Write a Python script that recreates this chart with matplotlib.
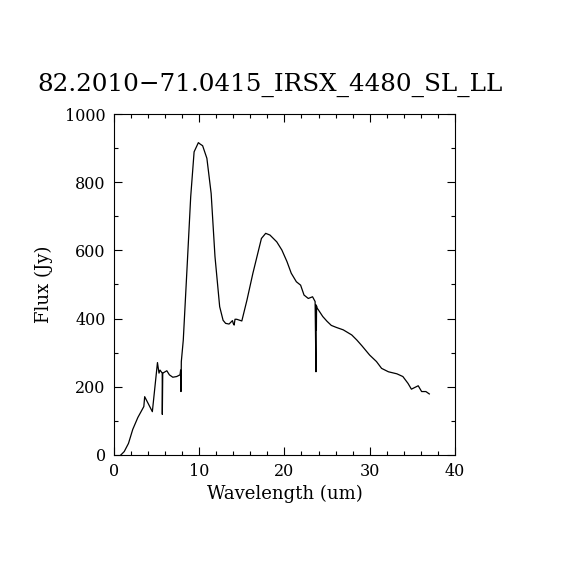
import matplotlib
matplotlib.use("Agg")
import matplotlib.pyplot as plt
from matplotlib.ticker import MultipleLocator

title = "82.2010\u221271.0415_IRSX_4480_SL_LL"
xlabel = "Wavelength (um)"
ylabel = "Flux (Jy)"

wave = [0.8, 1.2, 1.7, 2.2, 2.8, 3.5, 3.6, 4.5, 5.1, 5.28, 5.4, 5.66, 5.67, 5.72,
        5.79, 6.2, 6.5, 6.9, 7.35, 7.75, 7.82, 7.86, 7.9, 8.13, 8.6, 9.0, 9.4,
        9.9, 10.1, 10.4, 10.9, 11.4, 11.85, 12.4, 12.8, 13.1, 13.5, 13.9, 14.0,
        14.1, 14.2, 14.4, 15.0, 15.6, 16.3, 17.3, 17.8, 18.3, 19.1, 19.7, 20.3,
        20.8, 21.4, 21.9, 22.3, 22.8, 23.3, 23.6, 23.7, 23.72, 23.75, 23.77,
        23.8, 24.0, 24.5, 25.0, 25.5, 26.1, 26.9, 27.9, 28.5, 29.1, 30.0, 30.8,
        31.4, 32.2, 33.2, 33.9, 34.5, 34.9, 35.7, 36.1, 36.6, 37.0]
flux = [0, 10, 34, 75, 110, 142, 171, 127, 271, 240, 249, 240, 119, 240,
        241, 247, 235, 228, 230, 235, 249, 186, 274, 337, 562, 757, 889,
        916, 912, 907, 870, 767, 582, 435, 395, 386, 384, 394, 385,
        381, 398, 398, 393, 454, 533, 635, 650, 645, 625, 601, 567,
        533, 508, 498, 469, 459, 464, 450, 244, 440, 367, 437,
        432, 425, 406, 392, 380, 374, 367, 352, 337, 320, 293, 274,
        254, 244, 238, 230, 210, 193, 203, 186, 186, 179]

plt.rcParams['font.family'] = ['DejaVu Serif']
fig = plt.figure(figsize=(5.7, 5.7), dpi=100)
ax = fig.add_axes([0.2, 0.2018, 0.598, 0.5982])
ax.plot(wave, flux, color='black', lw=0.9)
ax.set_xlim(0, 40)
ax.set_ylim(0, 1000)
ax.xaxis.set_major_locator(MultipleLocator(10))
ax.xaxis.set_minor_locator(MultipleLocator(2))
ax.yaxis.set_major_locator(MultipleLocator(200))
ax.yaxis.set_minor_locator(MultipleLocator(100))
ax.tick_params(which='both', direction='in', top=True, right=True,
               labelsize=11.5, width=0.8, pad=6)
ax.tick_params(which='major', length=6)
ax.tick_params(which='minor', length=3)
for s in ax.spines.values():
    s.set_linewidth(0.8)
ax.set_xlabel(xlabel, fontsize=13, labelpad=3)
ax.set_ylabel(ylabel, fontsize=13, labelpad=9)
fig.text(0.4746, 0.84, title, ha='center', va='baseline', fontsize=17.7)
fig.savefig("out.png", dpi=100, facecolor='white')
